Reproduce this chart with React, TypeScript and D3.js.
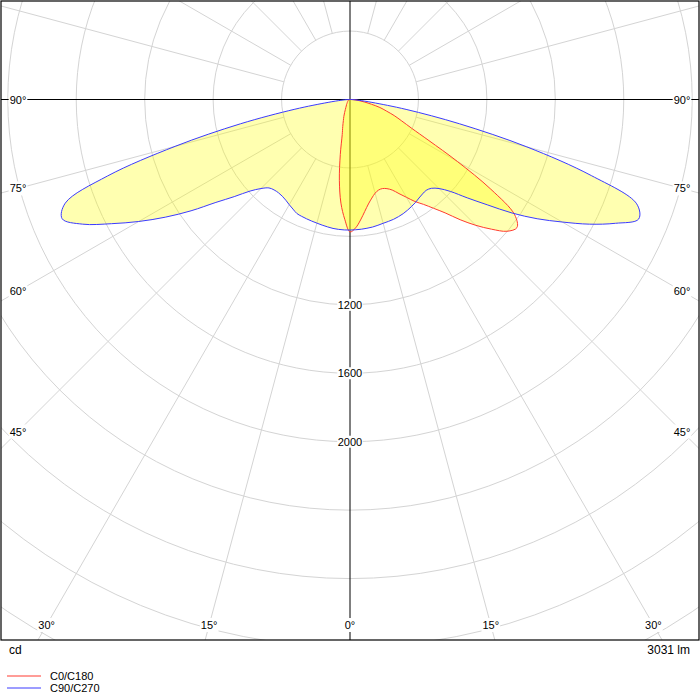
import React from 'react';
import * as d3 from 'd3';

// ---- data (cd values per gamma angle) ----
const GAMMA = [0, 2.5, 5, 7.5, 10, 12.5, 15, 17.5, 20, 22.5, 25, 27.5, 30, 32.5, 35, 37.5, 40, 42.5, 45, 47.5, 50, 52.5, 55, 57.5, 60, 62.5, 65, 67.5, 70, 72.5, 75, 77.5, 80, 82.5, 85, 87.5, 90];

const C0 = [774, 751, 707, 660, 620, 590, 567, 555, 554, 564, 584, 620, 660, 707, 748, 801, 865, 953, 1040, 1122, 1198, 1230, 1175, 976, 725, 520, 397, 327, 275, 222, 181, 129, 88, 58, 35, 18, 0];
const C180 = [774, 701, 608, 476, 327, 210, 164, 129, 105, 82, 64, 53, 44, 38, 35, 29, 26, 23, 20, 19, 18, 16, 15, 14, 13, 12, 11, 9, 8, 7, 6, 5, 4, 3, 2, 1, 0];
const C90 = [763, 762, 761, 759, 757, 753, 749, 747, 745, 741, 736, 729, 721, 713, 703, 696, 693, 704, 736, 795, 894, 1011, 1157, 1297, 1432, 1578, 1712, 1826, 1783, 1479, 1070, 655, 333, 129, 53, 18, 0];
const C270 = [763, 763, 762, 760, 756, 752, 748, 745, 742, 739, 735, 722, 710, 698, 690, 687, 690, 701, 736, 792, 883, 988, 1134, 1280, 1426, 1572, 1724, 1821, 1771, 1485, 1058, 655, 327, 129, 53, 18, 0];

const RING_CD = [400, 800, 1200, 1600, 2000, 2400, 2800, 3200, 3600, 4000];
const RING_LABELS = [1200, 1600, 2000];
const SPOKE_ANGLES = [15, 30, 45, 60, 75, 105, 120, 135, 150, 165, 195, 210, 225, 240, 255, 285, 300, 315, 330, 345];
const ANGLE_LABELS = [0, 15, 30, 45, 60, 75, 90];

const SERIES = [
  { name: 'C0/C180', left: C180, right: C0, color: '#ff3b30' },
  { name: 'C90/C270', left: C270, right: C90, color: '#3b3bff' },
];
const UNIT_LABEL = 'cd';
const FLUX_LABEL = '3031 lm';

// ---- layout ----
const W = 700;
const H = 700;
const FRAME = { x: 1, y: 1, w: 698, h: 639 };
const CX = 350;
const CY = 99.5;
const FONT = '"Liberation Sans", Arial, sans-serif';

const rScale = d3.scaleLinear().domain([0, 400]).range([0, 68.44]);
const rad = (deg: number) => (deg * Math.PI) / 180;

function curvePath(left: number[], right: number[]) {
  const pts: [number, number][] = [];
  for (let i = GAMMA.length - 1; i >= 0; i--) pts.push([Math.PI + rad(GAMMA[i]), rScale(left[i])]);
  for (let i = 1; i < GAMMA.length; i++) pts.push([Math.PI - rad(GAMMA[i]), rScale(right[i])]);
  const gen = d3
    .lineRadial<[number, number]>()
    .angle((d) => d[0])
    .radius((d) => d[1])
    .curve(d3.curveCatmullRom.alpha(0.5));
  return (gen(pts) || '') + 'Z';
}

function textWidth(s: string, size: number) {
  let w = 0;
  for (const ch of s) {
    if (ch === '°') w += 0.4;
    else if (ch === ' ') w += 0.278;
    else w += 0.556;
  }
  return w * size;
}

function labelPos(g: number, side: number) {
  const dx = side * Math.sin(rad(g));
  const dy = Math.cos(rad(g));
  const xLim = side < 0 ? 18 : 682;
  const tx = Math.abs(dx) > 1e-9 ? (xLim - CX) / dx : Infinity;
  const ty = dy > 1e-9 ? (625 - CY) / dy : Infinity;
  const t = Math.min(tx, ty);
  return [CX + dx * t, CY + dy * t];
}

export default function App() {
  const angleLabels: { x: number; y: number; t: string }[] = [];
  ANGLE_LABELS.forEach((g) => {
    const sides = g === 0 ? [1] : [-1, 1];
    sides.forEach((s) => {
      const [x, y] = labelPos(g, s);
      angleLabels.push({ x, y, t: `${g}°` });
    });
  });

  return (
    <svg
      width={W}
      height={H}
      style={{ position: 'absolute', left: 0, top: 0, background: '#fff' }}
      fontFamily={FONT}
    >
      <defs>
        <clipPath id="plotClip">
          <rect x={FRAME.x} y={FRAME.y} width={FRAME.w} height={FRAME.h} />
        </clipPath>
      </defs>
      <rect x={0} y={0} width={W} height={H} fill="#fff" />
      <g clipPath="url(#plotClip)">
        {/* rings */}
        {RING_CD.map((v) => (
          <circle key={v} cx={CX} cy={CY} r={rScale(v)} fill="none" stroke="#d4d4d4" strokeWidth={1} />
        ))}
        {/* spokes */}
        {SPOKE_ANGLES.map((a) => {
          const r0 = rScale(RING_CD[0]);
          const r1 = 900;
          return (
            <line
              key={a}
              x1={CX + r0 * Math.sin(rad(a))}
              y1={CY + r0 * Math.cos(rad(a))}
              x2={CX + r1 * Math.sin(rad(a))}
              y2={CY + r1 * Math.cos(rad(a))}
              stroke="#d4d4d4"
              strokeWidth={1}
            />
          );
        })}
        {/* axes */}
        <line x1={FRAME.x} x2={FRAME.x + FRAME.w} y1={CY} y2={CY} stroke="#000" strokeWidth={1} />
        <line x1={CX} x2={CX} y1={FRAME.y} y2={FRAME.y + FRAME.h} stroke="#000" strokeWidth={1} />
        {/* curves */}
        <g transform={`translate(${CX},${CY})`}>
          {SERIES.map((s) => (
            <path key={s.name + 'f'} d={curvePath(s.left, s.right)} fill="#ffff00" fillOpacity={0.31} stroke="none" />
          ))}
          {SERIES.map((s) => (
            <path key={s.name + 's'} d={curvePath(s.left, s.right)} fill="none" stroke={s.color} strokeWidth={1} />
          ))}
        </g>
        {/* intensity labels */}
        {RING_LABELS.map((v) => {
          const t = String(v);
          const w = textWidth(t, 11) + 1;
          const y = CY + rScale(v);
          return (
            <g key={v}>
              <rect x={CX - w / 2} y={y - 6} width={w} height={12} fill="#fff" />
              <text x={CX} y={y} fontSize={11} textAnchor="middle" dominantBaseline="central" fill="#000">
                {t}
              </text>
            </g>
          );
        })}
        {/* angle labels */}
        {angleLabels.map((l, i) => {
          const w = textWidth(l.t, 11) + 2;
          return (
            <g key={i}>
              <rect x={l.x - w / 2} y={l.y - 7} width={w} height={14} fill="#fff" />
              <text x={l.x} y={l.y} fontSize={11} textAnchor="middle" dominantBaseline="central" fill="#000">
                {l.t}
              </text>
            </g>
          );
        })}
      </g>
      <rect x={FRAME.x} y={FRAME.y} width={FRAME.w} height={FRAME.h} fill="none" stroke="#000" strokeWidth={1.2} />
      <text x={9} y={650} fontSize={12} dominantBaseline="central" fill="#000">
        {UNIT_LABEL}
      </text>
      <text x={690} y={650} fontSize={12} textAnchor="end" dominantBaseline="central" fill="#000">
        {FLUX_LABEL}
      </text>
      {SERIES.map((s, i) => (
        <g key={s.name + 'l'}>
          <line x1={7} x2={41} y1={676 + i * 12} y2={676 + i * 12} stroke={s.color} strokeWidth={1} />
          <text x={50} y={676 + i * 12} fontSize={11} dominantBaseline="central" fill="#000">
            {s.name}
          </text>
        </g>
      ))}
    </svg>
  );
}
